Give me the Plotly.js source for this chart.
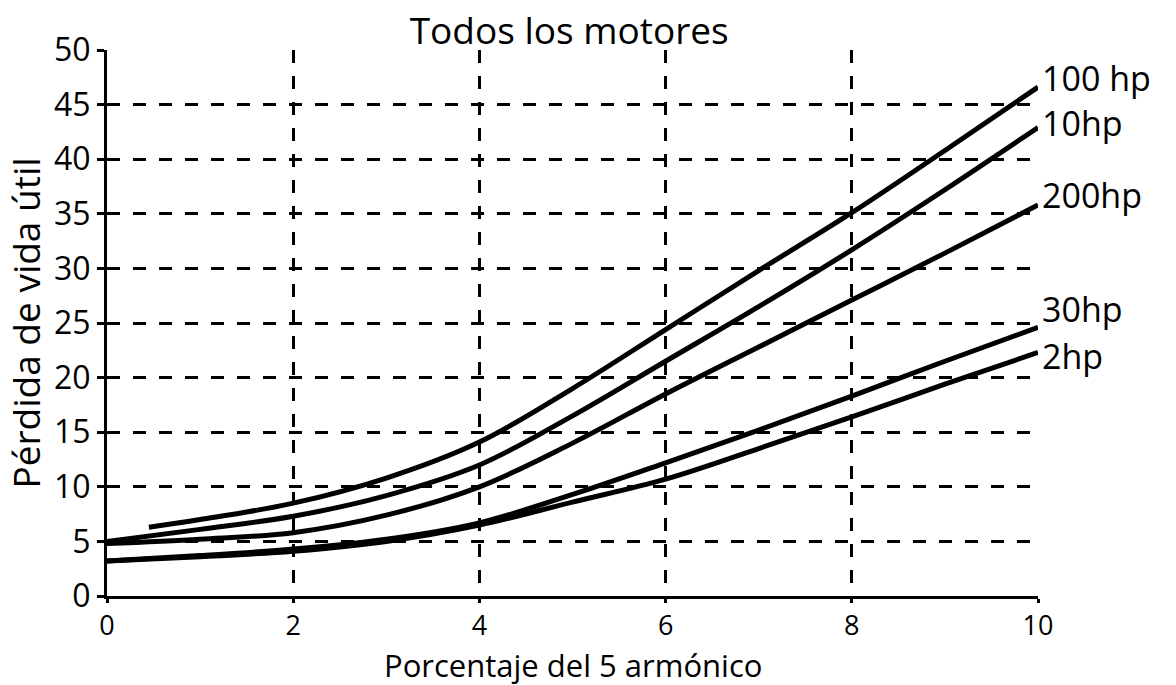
<!DOCTYPE html>
<html>
<head>
<meta charset="utf-8">
<script src="https://cdn.plot.ly/plotly-3.0.1.min.js"></script>
<style>html,body{margin:0;padding:0;background:#fff;}#chart{width:1176px;height:685px;}</style>
</head>
<body>
<div id="chart"></div>
<script>
const xFull = [0, 1, 2, 3, 4, 5, 6, 7, 8, 9, 10];
const x100 = [0.45, 1, 2, 3, 4, 5, 6, 7, 8, 9, 10];
const y100hp = [6.3, 7.0, 8.5, 10.8, 14.1, 19.0, 24.4, 29.8, 35.1, 40.8, 46.6];
const y10hp = [5.0, 6.1, 7.3, 9.2, 12.0, 16.5, 21.5, 26.5, 31.7, 37.2, 42.9];
const y200hp = [4.8, 5.2, 5.8, 7.4, 10.0, 14.0, 18.5, 22.8, 27.1, 31.4, 35.8];
const y30hp = [3.2, 3.7, 4.3, 5.2, 6.7, 9.3, 12.2, 15.2, 18.3, 21.5, 24.6];
const y2hp = [3.2, 3.6, 4.1, 5.0, 6.5, 8.6, 10.7, 13.5, 16.4, 19.4, 22.3];
const seriesNames = ['100 hp', '10hp', '200hp', '30hp', '2hp'];
const labelY = [47.4, 43.3, 36.7, 26.3, 22.0];
const xTicks = [0, 2, 4, 6, 8, 10];
const yTicks = [0, 5, 10, 15, 20, 25, 30, 35, 40, 45, 50];
const xTitle = 'Porcentaje del 5 armónico';

const FONT = 'Open Sans, Noto Sans, sans-serif';
const xs = [x100, xFull, xFull, xFull, xFull];
const ys = [y100hp, y10hp, y200hp, y30hp, y2hp];
const traces = ys.map((y, i) => ({
  x: xs[i], y: y, type: 'scatter', mode: 'lines', name: seriesNames[i],
  line: {color: '#000', width: 5, shape: 'spline', smoothing: 1.0},
  hoverinfo: 'skip'
}));

const annotations = seriesNames.map((n, i) => ({
  x: 10, y: labelY[i], xref: 'x', yref: 'y', text: n, showarrow: false,
  xanchor: 'left', yanchor: 'middle', xshift: 2,
  font: {family: FONT, size: 34, color: '#000'}
}));
annotations.push({
  x: 0.5, y: 0, xref: 'paper', yref: 'paper', text: xTitle, showarrow: false,
  xanchor: 'center', yanchor: 'top', yshift: -47, borderpad: 0,
  font: {family: FONT, size: 31, color: '#000'}
});

const layout = {
  width: 1176, height: 685,
  margin: {l: 107, r: 138, t: 50, b: 89},
  paper_bgcolor: '#fff', plot_bgcolor: '#fff',
  showlegend: false,
  title: {text: 'Todos los motores', x: 0.484, xanchor: 'center', y: 0.955, yanchor: 'middle',
          font: {family: FONT, size: 37, color: '#000'}},
  xaxis: {
    range: [0, 10], tickvals: xTicks, ticktext: xTicks.map(String),
    showgrid: true, gridcolor: '#000', gridwidth: 3, griddash: '13px,13px',
    showline: true, linecolor: '#000', linewidth: 3,
    ticks: 'outside', ticklen: 4, tickwidth: 3, tickcolor: '#000',
    zeroline: false,
    tickfont: {family: FONT, size: 27, color: '#000'}
  },
  yaxis: {
    range: [0, 50], tickvals: yTicks, ticktext: yTicks.map(String),
    showgrid: true, gridcolor: '#000', gridwidth: 3, griddash: '13px,13px',
    showline: true, linecolor: '#000', linewidth: 3,
    ticks: 'outside', ticklen: 7, tickwidth: 3, tickcolor: '#000',
    zeroline: false,
    tickfont: {family: FONT, size: 32, color: '#000'},
    title: {text: 'Pérdida de vida útil', font: {family: FONT, size: 37, color: '#000'}, standoff: 6}
  },
  annotations: annotations
};

Plotly.newPlot('chart', traces, layout, {displayModeBar: false, staticPlot: true});
</script>
</body>
</html>
